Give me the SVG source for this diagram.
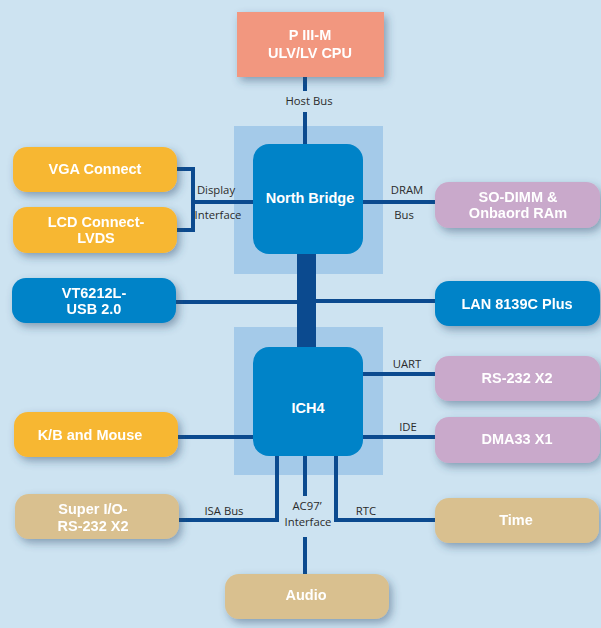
<svg xmlns="http://www.w3.org/2000/svg" width="601" height="628" viewBox="0 0 601 628">
<defs>
<filter id="sh" x="-20%" y="-30%" width="150%" height="170%">
<feDropShadow dx="3" dy="4" stdDeviation="4.5" flood-color="#2a4a6a" flood-opacity="0.45"/>
</filter>
<style>
.bt{font-family:"Liberation Sans",Arial,sans-serif;font-weight:bold;font-size:14.5px;fill:#fff;text-anchor:middle}
.lb{font-family:"Open Sans","Noto Sans",sans-serif;font-size:11.3px;fill:#2b2b2b;text-anchor:middle}
.ln{stroke:#0b4a8f;stroke-width:4;fill:none}
.or{fill:#f7b733}
.bl{fill:#0083c8}
.pu{fill:#c9a9cb}
.tn{fill:#d9c08f}
.bk{fill:#a4cae9}
</style>
</defs>
<rect width="601" height="628" fill="#cde3f1"/>
<rect class="bk" x="234" y="126" width="149" height="148"/>
<rect class="bk" x="234" y="327" width="149" height="148"/>
<g id="connectors">
<line class="ln" x1="305" y1="77" x2="305" y2="91"/>
<line class="ln" x1="305" y1="112" x2="305" y2="146"/>
<rect x="297" y="252" width="19" height="97" fill="#0b4a8f"/>
<polyline class="ln" points="177,169 193,169 193,230 177,230"/>
<line class="ln" x1="193" y1="202" x2="255" y2="202"/>
<line class="ln" x1="361" y1="202" x2="437" y2="202"/>
<line class="ln" x1="176" y1="302" x2="299" y2="302"/>
<line class="ln" x1="314" y1="301" x2="437" y2="301"/>
<line class="ln" x1="361" y1="374" x2="437" y2="374"/>
<line class="ln" x1="361" y1="437" x2="437" y2="437"/>
<line class="ln" x1="176" y1="437" x2="255" y2="437"/>
<polyline class="ln" points="277,454 277,520 177,520"/>
<polyline class="ln" points="336,454 336,520 437,520"/>
<line class="ln" x1="305" y1="454" x2="305" y2="496"/>
<line class="ln" x1="305" y1="537" x2="305" y2="576"/>
<text class="lb" x="309" y="105">Host Bus</text>
<text class="lb" x="216" y="194">Display</text>
<text class="lb" x="218" y="219">Interface</text>
<text class="lb" x="407" y="194">DRAM</text>
<text class="lb" x="404" y="219">Bus</text>
<text class="lb" x="407" y="368">UART</text>
<text class="lb" x="408" y="431">IDE</text>
<text class="lb" x="224" y="515">ISA Bus</text>
<text class="lb"><tspan x="307" y="510">AC97’</tspan><tspan x="308" y="526">Interface</tspan></text>
<text class="lb" x="366" y="515">RTC</text>
</g>
<g id="cpu" filter="url(#sh)">
<rect x="237" y="12" width="147" height="65" fill="#f2977f"/>
<text class="bt"><tspan x="310" y="40">P III-M</tspan><tspan x="310" y="58">ULV/LV CPU</tspan></text>
</g>
<g id="northbridge">
<rect class="bl" x="253" y="144" width="110" height="110" rx="16"/>
<text class="bt" x="310" y="203">North Bridge</text>
</g>
<g id="ich4">
<rect class="bl" x="253" y="347" width="110" height="109" rx="16"/>
<text class="bt" x="308" y="413">ICH4</text>
</g>
<g id="vga" filter="url(#sh)">
<rect class="or" x="13" y="147" width="164" height="45" rx="14"/>
<text class="bt" x="95" y="174">VGA Connect</text>
</g>
<g id="lcd" filter="url(#sh)">
<rect class="or" x="13" y="207" width="164" height="46" rx="14"/>
<text class="bt"><tspan x="96" y="227">LCD Connect-</tspan><tspan x="96" y="243">LVDS</tspan></text>
</g>
<g id="usb" filter="url(#sh)">
<rect class="bl" x="12" y="278" width="164" height="45" rx="14"/>
<text class="bt"><tspan x="94" y="298">VT6212L-</tspan><tspan x="94" y="314">USB 2.0</tspan></text>
</g>
<g id="kb" filter="url(#sh)">
<rect class="or" x="14" y="412" width="164" height="45" rx="14"/>
<text class="bt" x="90" y="440">K/B and Mouse</text>
</g>
<g id="superio" filter="url(#sh)">
<rect class="tn" x="15" y="494" width="164" height="45" rx="14"/>
<text class="bt"><tspan x="93" y="514">Super I/O-</tspan><tspan x="93" y="531">RS-232 X2</tspan></text>
</g>
<g id="sodimm" filter="url(#sh)">
<rect class="pu" x="435" y="182" width="165" height="46" rx="14"/>
<text class="bt"><tspan x="518" y="202">SO-DIMM &amp;</tspan><tspan x="518" y="218">Onbaord RAm</tspan></text>
</g>
<g id="lan" filter="url(#sh)">
<rect class="bl" x="435" y="281" width="165" height="45" rx="14"/>
<text class="bt" x="517" y="309">LAN 8139C Plus</text>
</g>
<g id="rs232" filter="url(#sh)">
<rect class="pu" x="435" y="356" width="165" height="45" rx="14"/>
<text class="bt" x="517" y="383">RS-232 X2</text>
</g>
<g id="dma" filter="url(#sh)">
<rect class="pu" x="435" y="417" width="165" height="46" rx="14"/>
<text class="bt" x="517" y="444">DMA33 X1</text>
</g>
<g id="time" filter="url(#sh)">
<rect class="tn" x="435" y="498" width="164" height="45" rx="14"/>
<text class="bt" x="516" y="525">Time</text>
</g>
<g id="audio" filter="url(#sh)">
<rect class="tn" x="225" y="574" width="164" height="45" rx="14"/>
<text class="bt" x="306" y="600">Audio</text>
</g>
</svg>
